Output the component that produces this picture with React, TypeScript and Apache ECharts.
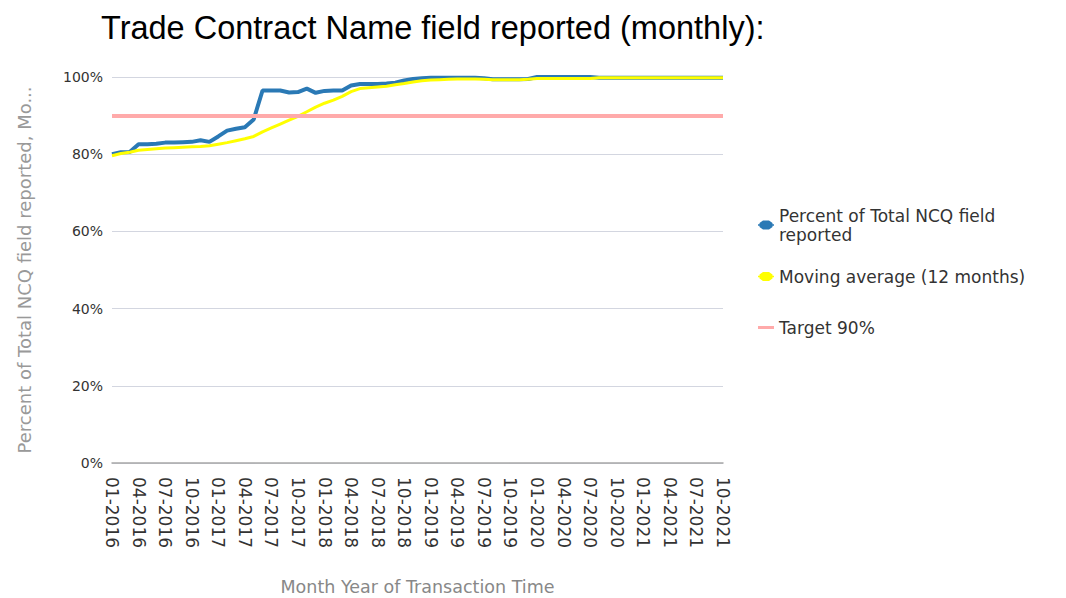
import React, { useEffect, useRef } from "react";
import * as echarts from "echarts";

const TITLE = "Trade Contract Name field reported (monthly):";
const Y_NAME = "Percent of Total NCQ field reported, Mo...";
const X_NAME = "Month Year of Transaction Time";
const S_ACTUAL = "Percent of Total NCQ field reported";
const S_AVG = "Moving average (12 months)";
const S_TARGET = "Target 90%";
const TARGET = 90;

const months = [
  "01-2016", "02-2016", "03-2016", "04-2016", "05-2016", "06-2016", "07-2016", "08-2016", "09-2016", "10-2016", "11-2016", "12-2016",
  "01-2017", "02-2017", "03-2017", "04-2017", "05-2017", "06-2017", "07-2017", "08-2017", "09-2017", "10-2017", "11-2017", "12-2017",
  "01-2018", "02-2018", "03-2018", "04-2018", "05-2018", "06-2018", "07-2018", "08-2018", "09-2018", "10-2018", "11-2018", "12-2018",
  "01-2019", "02-2019", "03-2019", "04-2019", "05-2019", "06-2019", "07-2019", "08-2019", "09-2019", "10-2019", "11-2019", "12-2019",
  "01-2020", "02-2020", "03-2020", "04-2020", "05-2020", "06-2020", "07-2020", "08-2020", "09-2020", "10-2020", "11-2020", "12-2020",
  "01-2021", "02-2021", "03-2021", "04-2021", "05-2021", "06-2021", "07-2021", "08-2021", "09-2021", "10-2021",
];

const actual = [
  80.0, 80.5, 80.6, 82.6, 82.6, 82.7, 83.0, 83.0, 83.1, 83.2, 83.6, 83.2,
  84.6, 86.1, 86.6, 87.0, 89.0, 96.5, 96.5, 96.5, 96.0, 96.1, 97.0, 95.9,
  96.4, 96.5, 96.5, 97.8, 98.2, 98.2, 98.2, 98.3, 98.5, 99.1, 99.5, 99.7,
  99.8, 99.8, 99.8, 99.8, 99.8, 99.8, 99.7, 99.4, 99.4, 99.4, 99.4, 99.5,
  100.0, 100.0, 100.0, 100.0, 100.0, 100.0, 100.0, 99.8, 99.8, 99.8, 99.8, 99.8,
  99.8, 99.8, 99.8, 99.8, 99.8, 99.8, 99.8, 99.8, 99.8, 99.8,
];

const movingAvg = [
  79.6, 80.2, 80.5, 81.0, 81.2, 81.4, 81.6, 81.7, 81.8, 81.9, 82.0, 82.2,
  82.6, 83.0, 83.5, 84.0, 84.6, 85.8, 86.8, 87.8, 88.8, 89.8, 91.0, 92.2,
  93.2, 94.0, 95.0, 96.2, 97.0, 97.2, 97.4, 97.6, 98.0, 98.3, 98.7, 99.0,
  99.2, 99.3, 99.4, 99.5, 99.5, 99.5, 99.4, 99.3, 99.3, 99.3, 99.3, 99.4,
  99.6, 99.6, 99.6, 99.6, 99.6, 99.6, 99.6, 99.8, 99.8, 99.8, 99.8, 99.8,
  99.8, 99.8, 99.8, 99.8, 99.8, 99.8, 99.8, 99.8, 99.8, 99.8,
];

const BLUE = "#2a79b5";
const YELLOW = "#ffff00";
const PINK = "#ffaaaa";
const FONT = "DejaVu Sans";

const BLOB_ICON =
  "path://M0,4.3L16,4.3L16,5.7L0,5.7Z M5,0.5L11,0.5L14.5,3L14.5,7L11,9.5L5,9.5L1.5,7L1.5,3Z";
const LINE_ICON = "path://M0,0L16,0L16,3L0,3Z";

export default function App() {
  const ref = useRef<HTMLDivElement>(null);

  useEffect(() => {
    if (!ref.current) return;
    const chart = echarts.init(ref.current, null, { renderer: "svg" });
    const legendText = { fontFamily: FONT, fontSize: 17, color: "#333", lineHeight: 19 };
    chart.setOption({
      animation: false,
      backgroundColor: "#ffffff",
      title: {
        text: TITLE,
        left: 96,
        top: 6,
        textStyle: { fontFamily: "Liberation Sans", fontSize: 32.5, fontWeight: "normal", color: "#000" },
      },
      legend: [
        {
          left: 753, top: 201, itemWidth: 16, itemHeight: 10, itemGap: 0,
          data: [{ name: S_ACTUAL, icon: BLOB_ICON }],
          formatter: () => "Percent of Total NCQ field\nreported",
          textStyle: legendText,
        },
        {
          left: 753, top: 262, itemWidth: 16, itemHeight: 10,
          data: [{ name: S_AVG, icon: BLOB_ICON }],
          textStyle: legendText,
        },
        {
          left: 753, top: 313, itemWidth: 16, itemHeight: 10,
          data: [{ name: S_TARGET, icon: LINE_ICON }],
          textStyle: legendText,
        },
      ],
      grid: { left: 112, right: 343, top: 77, bottom: 135, containLabel: false, outerBoundsMode: "none" },
      xAxis: {
        type: "category",
        data: months,
        boundaryGap: false,
        name: X_NAME,
        nameLocation: "middle",
        nameGap: 115,
        nameTextStyle: { fontFamily: FONT, fontSize: 17.5, color: "#888" },
        axisLine: { show: true, lineStyle: { color: "#a8a8a8", width: 1.5 } },
        axisTick: { show: false },
        axisLabel: {
          interval: 2,
          rotate: -90,
          margin: 14,
          fontFamily: FONT,
          fontSize: 17,
          color: "#333",
        },
        splitLine: { show: false },
      },
      yAxis: {
        type: "value",
        min: 0,
        max: 100,
        interval: 20,
        name: Y_NAME,
        nameLocation: "middle",
        nameGap: 79,
        nameTextStyle: { fontFamily: FONT, fontSize: 18, color: "#999" },
        axisLine: { show: false },
        axisTick: { show: false },
        axisLabel: { formatter: "{value}%", fontFamily: FONT, fontSize: 14, color: "#333", margin: 9 },
        splitLine: { show: true, lineStyle: { color: "#d3d6e0", width: 1.2 } },
      },
      series: [
        {
          name: S_TARGET,
          type: "line",
          data: [],
          color: PINK,
          z: 1,
          markLine: {
            silent: true,
            symbol: "none",
            label: { show: false },
            lineStyle: { color: PINK, width: 4, type: "solid" },
            data: [{ yAxis: TARGET }],
          },
        },
        {
          name: S_ACTUAL,
          type: "line",
          data: actual,
          color: BLUE,
          showSymbol: false,
          lineStyle: { color: BLUE, width: 4 },
          z: 2,
        },
        {
          name: S_AVG,
          type: "line",
          data: movingAvg,
          color: YELLOW,
          showSymbol: false,
          lineStyle: { color: YELLOW, width: 3 },
          z: 3,
        },
      ],
    });
    return () => chart.dispose();
  }, []);

  return (
    <div
      ref={ref}
      style={{ position: "fixed", left: 0, top: 0, width: 1066, height: 598, background: "#fff" }}
    />
  );
}
